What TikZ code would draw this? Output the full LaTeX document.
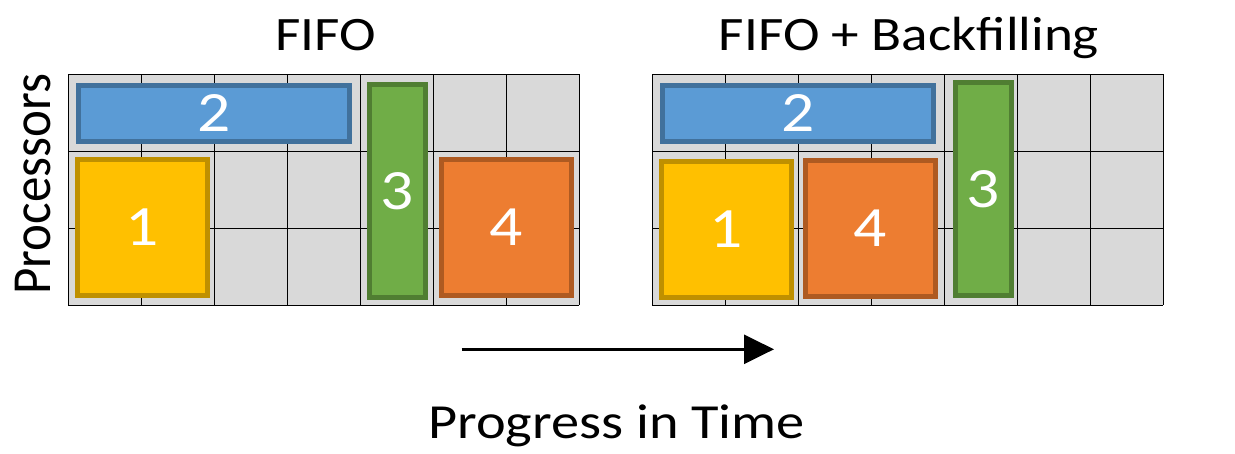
\documentclass[tikz,border=0pt]{standalone}
\usepackage{fontspec}
\setmainfont{Carlito}
\usetikzlibrary{arrows.meta}
\definecolor{cellgray}{HTML}{D9D9D9}
\definecolor{jblue}{HTML}{5B9BD5}
\definecolor{jblueb}{HTML}{41719C}
\definecolor{jyellow}{HTML}{FFC000}
\definecolor{jyellowb}{HTML}{BF9000}
\definecolor{jgreen}{HTML}{70AD47}
\definecolor{jgreenb}{HTML}{507E32}
\definecolor{jorange}{HTML}{ED7D31}
\definecolor{jorangeb}{HTML}{AE5A21}
\newcommand\stretchtext[1]{\scalebox{1.15}[1]{#1}}
\tikzset{
  gridline/.style={draw=black,line width=1.5pt},
  job/.style={draw,line width=5pt,inner sep=0pt,text=white,font=\fontsize{57}{57}\selectfont},
  bluejob/.style={job,fill=jblue,draw=jblueb},
  yellowjob/.style={job,fill=jyellow,draw=jyellowb},
  greenjob/.style={job,fill=jgreen,draw=jgreenb},
  orangejob/.style={job,fill=jorange,draw=jorangeb},
  titletext/.style={anchor=base,inner sep=0pt,font=\fontsize{48}{48}\selectfont},
}
\begin{document}
\begin{tikzpicture}[x=1pt,y=-1pt]
\useasboundingbox (0,0) rectangle (1235,454);
\fill[white] (0,0) rectangle (1235,454);
% grids
\foreach \gx in {68.3,652.3}{
  \fill[cellgray] (\gx,74.3) rectangle ({\gx+511},305.3);
  \foreach \i in {0,...,7}{
    \draw[gridline] ({\gx+73*\i},74.3) -- ({\gx+73*\i},305.3);
  }
  \foreach \j in {0,...,3}{
    \draw[gridline] (\gx,{74.3+77*\j}) -- ({\gx+511},{74.3+77*\j});
  }
}
% left: FIFO
\node[bluejob,minimum width=270.7pt,minimum height=55.7pt] (l2) at (213.85,113.35) {\stretchtext{2}};
\node[yellowjob,minimum width=130pt,minimum height=135.7pt] (l1) at (142.5,227.35) {\stretchtext{1}};
\node[greenjob,minimum width=56pt,minimum height=212.7pt] (l3) at (397.5,190.85) {\stretchtext{3}};
\node[orangejob,minimum width=130pt,minimum height=136pt] (l4) at (506.5,227.5) {\stretchtext{4}};
% right: FIFO + Backfilling
\node[bluejob,minimum width=271pt,minimum height=55.7pt] (r2) at (798,113.35) {\stretchtext{2}};
\node[yellowjob,minimum width=130pt,minimum height=135.7pt] (r1) at (726.5,229.35) {\stretchtext{1}};
\node[orangejob,minimum width=129.7pt,minimum height=136pt] (r4) at (870.35,228.5) {\stretchtext{4}};
\node[greenjob,minimum width=56.3pt,minimum height=213pt] (r3) at (983.15,189) {\stretchtext{3}};
% titles
\node[titletext] (t1) at (325.5,51) {\stretchtext{FIFO}};
\node[titletext] (t2) at (909,51) {\stretchtext{FIFO + Backfilling}};
\node[anchor=base,inner sep=0pt,rotate=90,font=\fontsize{51}{51}\selectfont] (proc) at (50,184) {\scalebox{1}[1.08]{Processors}};
\node[anchor=base,inner sep=0pt,font=\fontsize{49}{49}\selectfont] (prog) at (616.5,438.3) {\stretchtext{Progress in Time}};
% arrow
\coordinate (a0) at (461.7,349.3);
\coordinate (a1) at (774,349.3);
\draw[line width=2.5pt,-{Triangle[length=30pt,width=29pt]}] (a0) -- (a1);
\end{tikzpicture}
\end{document}
